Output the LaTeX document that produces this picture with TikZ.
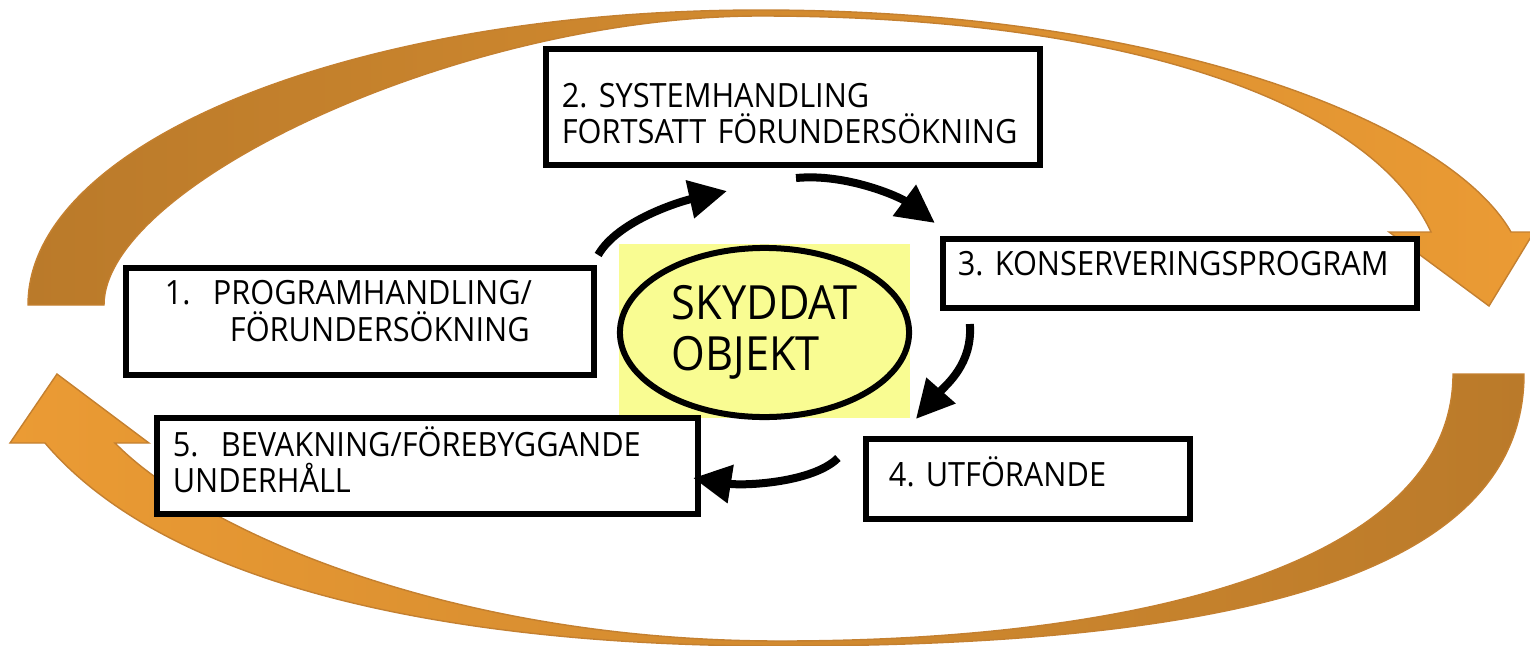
\documentclass[tikz,border=0pt]{standalone}
\usepackage{fontspec}
\setmainfont[FakeStretch=0.92]{Open Sans}
\usetikzlibrary{arrows.meta,shapes.geometric,calc}
\definecolor{ringbrown}{RGB}{186,122,42}
\definecolor{ringorange}{RGB}{235,155,52}
\definecolor{ringedge}{RGB}{196,128,48}
\definecolor{objyellow}{RGB}{249,252,146}
\frenchspacing
\hyphenpenalty=10000
\tikzset{
stage/.style={draw, fill=white, line width=0.06cm, inner ysep=0pt, align=left,
  font=\fontsize{9.5pt}{10.5pt}\selectfont},
flow/.style={line width=0.08cm, -{Triangle[length=0.38cm,width=0.37cm]}},
ring/.style={draw=ringedge, line width=0.4pt}
}
\begin{document}
\begin{tikzpicture}[x=0.01cm,y=-0.01cm]
\useasboundingbox (0,0) rectangle (1530,645);
\shade[ring, left color=ringbrown, right color=ringorange]
  (28,305) .. controls (28,141) and (356,10) .. (760,10)
  .. controls (1170,10) and (1450,125) .. (1511,232) -- (1534,232) -- (1489,306)
  -- (1389,232) -- (1431,232) .. controls (1370,100) and (1120,16) .. (760,16)
  .. controls (460,16) and (104,185) .. (104,305) -- cycle;
\shade[ring, left color=ringorange, right color=ringbrown]
  (1524,374) .. controls (1524,580) and (1220,646) .. (780,646)
  .. controls (460,646) and (170,590) .. (45,443) -- (10,443) -- (57,374)
  -- (149,443) -- (115,443) .. controls (200,530) and (450,641) .. (780,641)
  .. controls (1150,641) and (1453,560) .. (1453,374) -- cycle;
\fill[objyellow] (619,244) rectangle (910,418);
\node[draw, ellipse, fill=objyellow, line width=0.06cm, minimum width=2.89cm,
  minimum height=1.69cm, inner sep=0pt, align=left,
  font=\fontsize{13.4pt}{14.4pt}\selectfont] (obj) at (764.5,332.5) {SKYDDAT\\OBJEKT};
\node[stage, text width=3.90cm, inner xsep=0.39cm, text height=0.37cm, text depth=0.70cm]
  (prog) at (360,321.5) {1.\ \ PROGRAMHANDLING/\\\hspace*{0.65cm}FÖRUNDERSÖKNING};
\node[stage, text width=4.62cm, inner xsep=0.16cm, text height=0.58cm, text depth=0.58cm]
  (syst) at (793,107) {2. SYSTEMHANDLING\\FORTSATT FÖRUNDERSÖKNING};
\node[stage, text width=4.44cm, inner xsep=0.15cm, text height=0.36cm, text depth=0.33cm]
  (kons) at (1180,273.5) {3. KONSERVERINGSPROGRAM};
\node[stage, text width=2.78cm, inner xsep=0.23cm, text height=0.47cm, text depth=0.33cm]
  (utf) at (1028,479) {4. UTFÖRANDE};
\node[stage, text width=5.09cm, inner xsep=0.16cm, text height=0.38cm, text depth=0.58cm]
  (bev) at (427.5,466) {5.\ \ BEVAKNING/FÖREBYGGANDE\\UNDERHÅLL};
\draw[flow] ($(prog.north east)+(1,-10)$) .. controls +(20,-35) and +(-45,10) .. ($(syst.south)+(-66,23)$);
\draw[flow] ($(syst.south)+(3,10)$) .. controls +(50,-5) and +(-35,-26) .. ($(kons.north west)+(-5,-13)$);
\draw[flow] ($(kons.south west)+(30,13)$) .. controls +(3,40) and +(30,-34) .. ($(utf.north west)+(53,-17)$);
\draw[flow] ($(utf.west)+(-25,-21)$) .. controls +(-25,25) and +(50,8) .. ($(bev.east)+(-8,12)$);
\end{tikzpicture}
\end{document}
